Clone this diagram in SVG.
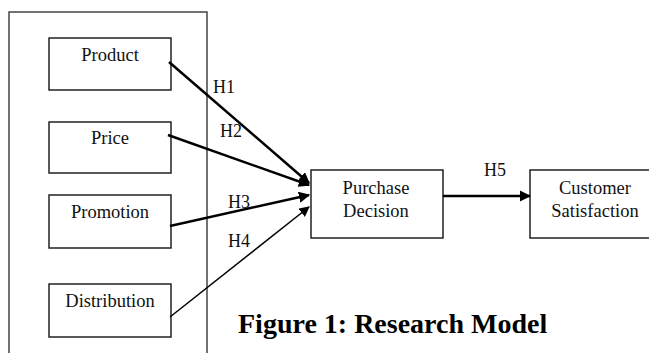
<svg xmlns="http://www.w3.org/2000/svg" width="649" height="353" viewBox="0 0 649 353">
<style>
.box{fill:#fff;stroke:#222;stroke-width:1.5}
.frame{fill:none;stroke:#444;stroke-width:1.5}
.t{font-family:"Liberation Serif","Times New Roman",serif;font-size:18.5px;fill:#111;text-anchor:middle}
.h{font-family:"Liberation Serif","Times New Roman",serif;font-size:18px;fill:#111}
.cap{font-family:"Liberation Serif","Times New Roman",serif;font-size:28px;font-weight:bold;fill:#000}
.c{stroke:#000;fill:none}
</style>
<defs>
<marker id="ah" viewBox="0 0 10 10" refX="9" refY="5" markerWidth="4.5" markerHeight="4.5" markerUnits="strokeWidth" orient="auto">
<path d="M0,0 L10,5 L0,10 z" fill="#000"/>
</marker>
<marker id="ah2" viewBox="0 0 10 10" refX="9" refY="5" markerWidth="7" markerHeight="7" markerUnits="strokeWidth" orient="auto">
<path d="M0,0 L10,5 L0,10 z" fill="#000"/>
</marker>
</defs>
<path class="frame" d="M9,360 L9,12 L207,12 L207,360"/>
<g id="product"><rect class="box" x="49" y="38" width="122" height="52"/><text class="t" x="110" y="61">Product</text></g>
<g id="price"><rect class="box" x="49" y="122" width="122" height="51"/><text class="t" x="110" y="144">Price</text></g>
<g id="promotion"><rect class="box" x="49" y="195" width="122" height="53"/><text class="t" x="110" y="218">Promotion</text></g>
<g id="distribution"><rect class="box" x="49" y="284" width="122" height="53"/><text class="t" x="110" y="307">Distribution</text></g>
<g id="purchase"><rect class="box" x="311" y="170" width="132" height="68"/><text class="t" x="376" y="194">Purchase</text><text class="t" x="376" y="217">Decision</text></g>
<g id="satisfaction"><rect class="box" x="530" y="170" width="130" height="68"/><text class="t" x="595" y="194">Customer</text><text class="t" x="595" y="217">Satisfaction</text></g>
<g id="connectors">
<line class="c" stroke-width="2.5" x1="169" y1="62" x2="309" y2="183" marker-end="url(#ah)"/>
<line class="c" stroke-width="2.5" x1="168" y1="135" x2="309" y2="185" marker-end="url(#ah)"/>
<line class="c" stroke-width="2.5" x1="170" y1="226" x2="309" y2="195" marker-end="url(#ah)"/>
<line class="c" stroke-width="1.5" x1="170" y1="317" x2="309" y2="207" marker-end="url(#ah2)"/>
<line class="c" stroke-width="2.5" x1="443" y1="196" x2="530" y2="196" marker-end="url(#ah)"/>
<text class="h" x="213" y="93">H1</text>
<text class="h" x="220" y="137">H2</text>
<text class="h" x="228" y="208">H3</text>
<text class="h" x="228" y="247">H4</text>
<text class="h" x="484" y="176">H5</text>
</g>
<text class="cap" x="238" y="333">Figure 1: Research Model</text>
</svg>
